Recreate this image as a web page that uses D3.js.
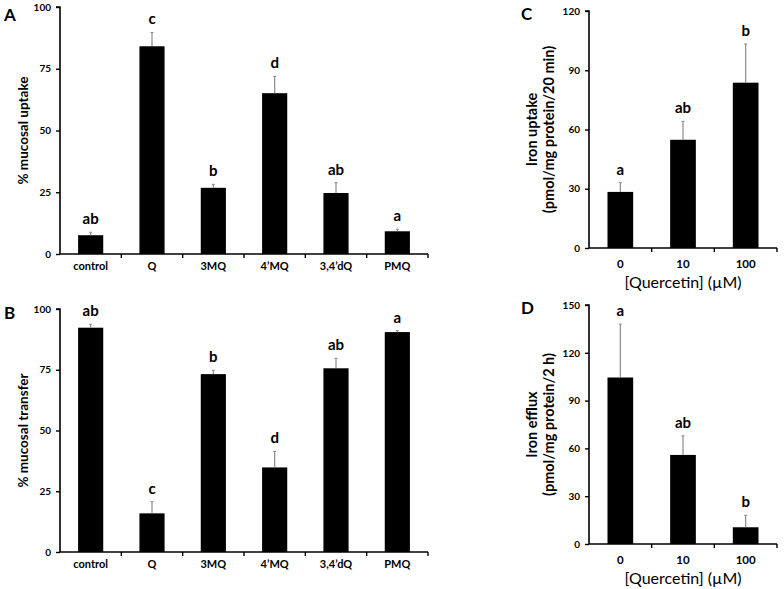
<!DOCTYPE html>
<html>
<head>
<meta charset="utf-8">
<script src="https://cdn.jsdelivr.net/npm/d3@7"></script>
<style>
  body { margin: 0; background: #fff; }
  svg { font-family: Lato, "Open Sans", sans-serif; }
</style>
</head>
<body>
<div id="chart"></div>
<script>
// panels A and B: quercetin analogues
const compounds = ["control", "Q", "3MQ", "4\u2019MQ", "3,4\u2019dQ", "PMQ"];
const uptakeMean = [7.6, 84.1, 26.8, 65.1, 24.7, 9.2];
const uptakeErr  = [1.2, 5.6, 1.4, 6.8, 4.2, 0.8];
const uptakeLetters = ["ab", "c", "b", "d", "ab", "a"];

const transferMean = [92.3, 15.9, 73.2, 34.8, 75.6, 90.5];
const transferErr  = [1.4, 4.8, 1.6, 6.6, 4.1, 0.6];
const transferLetters = ["ab", "c", "b", "d", "ab", "a"];

// panels C and D: quercetin dose
const doses = ["0", "10", "100"];
const ironUptakeMean = [28.4, 54.8, 83.7];
const ironUptakeErr  = [4.7, 9.3, 19.6];
const ironUptakeLetters = ["a", "ab", "b"];

const effluxMean = [104.5, 55.9, 10.5];
const effluxErr  = [33.5, 12.0, 7.5];
const effluxLetters = ["a", "ab", "b"];

const W = 784, H = 589;
const svg = d3.select("#chart").append("svg").attr("width", W).attr("height", H);

function panel(opt) {
    const g = svg.append("g");
    const x = d3.scaleBand().domain(opt.cats).range([opt.x0, opt.x1]).paddingInner(0.59).paddingOuter(0.295);
    const y = d3.scaleLinear().domain([0, opt.max]).range([opt.y1, opt.y0]);

    // bars
    g.selectAll("rect").data(opt.mean).join("rect")
        .attr("x", (d, i) => x(opt.cats[i]))
        .attr("y", d => y(d))
        .attr("width", x.bandwidth())
        .attr("height", d => y(0) - y(d))
        .attr("fill", "#000");

    // error bars (upper only)
    g.selectAll("line.err").data(opt.mean).join("line").attr("class", "err")
        .attr("x1", (d, i) => x(opt.cats[i]) + x.bandwidth() / 2)
        .attr("x2", (d, i) => x(opt.cats[i]) + x.bandwidth() / 2)
        .attr("y1", d => y(d))
        .attr("y2", (d, i) => y(d + opt.err[i]))
        .attr("stroke", "#8a8a8a").attr("stroke-width", 1.2);
    g.selectAll("line.cap").data(opt.mean).join("line").attr("class", "cap")
        .attr("x1", (d, i) => x(opt.cats[i]) + x.bandwidth() / 2 - 1.5)
        .attr("x2", (d, i) => x(opt.cats[i]) + x.bandwidth() / 2 + 1.5)
        .attr("y1", (d, i) => y(d + opt.err[i]))
        .attr("y2", (d, i) => y(d + opt.err[i]))
        .attr("stroke", "#8a8a8a").attr("stroke-width", 1);

    // significance letters
    g.selectAll("text.sig").data(opt.mean).join("text").attr("class", "sig")
        .attr("x", (d, i) => x(opt.cats[i]) + x.bandwidth() / 2)
        .attr("y", (d, i) => y(d + opt.err[i]) - 8)
        .attr("text-anchor", "middle")
        .attr("font-size", 15).attr("font-weight", "bold")
        .text((d, i) => opt.letters[i]);

    // y axis
    const ya = g.append("g").attr("transform", `translate(${opt.x0},0)`)
        .call(d3.axisLeft(y).tickValues(opt.ticks).tickSize(4).tickPadding(5));
    ya.select(".domain").attr("d", `M-4,${opt.y0}H0V${opt.y1}`).attr("stroke-width", 1.6);
    ya.selectAll(".tick line").attr("stroke-width", 1.4);
    ya.selectAll(".tick text").attr("font-size", 10).attr("font-weight", "bold").attr("font-family", "Lato, sans-serif");

    // x axis: line with ticks at category boundaries
    g.append("line").attr("x1", opt.x0).attr("x2", opt.x1).attr("y1", y(0)).attr("y2", y(0))
        .attr("stroke", "#000").attr("stroke-width", 1.6);
    const bounds = d3.range(opt.cats.length + 1).map(i => opt.x0 + i * x.step());
    g.selectAll("line.xt").data(bounds.slice(1)).join("line").attr("class", "xt")
        .attr("x1", d => d).attr("x2", d => d)
        .attr("y1", y(0)).attr("y2", y(0) + 4)
        .attr("stroke", "#000").attr("stroke-width", 1.4);
    g.selectAll("text.xl").data(opt.cats).join("text").attr("class", "xl")
        .attr("x", d => x(d) + x.bandwidth() / 2)
        .attr("y", y(0) + opt.xlabOff)
        .attr("text-anchor", "middle")
        .attr("font-size", opt.xlabSize).attr("font-weight", "bold")
        .text(d => d);

    // y title
    const tx = opt.titleX, ty = (opt.y0 + opt.y1) / 2;
    const t = g.append("text").attr("transform", `translate(${tx},${ty}) rotate(-90)`)
        .attr("text-anchor", "middle").attr("font-size", opt.titleSize).attr("font-weight", "bold");
    opt.title.forEach((line, i) => {
        t.append("tspan").attr("x", 0).attr("dy", i === 0 ? 0 : "1.2em").text(line);
    });

    if (opt.xtitle) {
        g.append("text").attr("x", (opt.x0 + opt.x1) / 2).attr("y", y(0) + 40)
            .attr("text-anchor", "middle").attr("font-size", 16)
            .text(opt.xtitle);
    }

    // panel letter
    g.append("text").attr("x", opt.lx).attr("y", opt.ly)
        .attr("font-size", 17).attr("font-weight", "bold").text(opt.label);
}

panel({cats: compounds, mean: uptakeMean, err: uptakeErr, letters: uptakeLetters,
    x0: 60, x1: 428, y0: 7, y1: 254, max: 100, ticks: [0, 25, 50, 75, 100],
    xlabOff: 16, xlabSize: 11, title: ["% mucosal uptake"], titleX: 28, titleSize: 13.5,
    label: "A", lx: 4, ly: 21});

panel({cats: compounds, mean: transferMean, err: transferErr, letters: transferLetters,
    x0: 60, x1: 428, y0: 309, y1: 552, max: 100, ticks: [0, 25, 50, 75, 100],
    xlabOff: 16, xlabSize: 11, title: ["% mucosal transfer"], titleX: 28, titleSize: 13.5,
    label: "B", lx: 4, ly: 319});

panel({cats: doses, mean: ironUptakeMean, err: ironUptakeErr, letters: ironUptakeLetters,
    x0: 589, x1: 777, y0: 11, y1: 248, max: 120, ticks: [0, 30, 60, 90, 120],
    xlabOff: 20, xlabSize: 11.5, title: ["Iron uptake", "(pmol/mg protein/20 min)"], titleX: 537, titleSize: 14.5,
    xtitle: "[Quercetin] (\u00b5M)", label: "C", lx: 521, ly: 20});

panel({cats: doses, mean: effluxMean, err: effluxErr, letters: effluxLetters,
    x0: 589, x1: 777, y0: 305, y1: 544, max: 150, ticks: [0, 30, 60, 90, 120, 150],
    xlabOff: 20, xlabSize: 11.5, title: ["Iron efflux", "(pmol/mg protein/2 h)"], titleX: 537, titleSize: 14.5,
    xtitle: "[Quercetin] (\u00b5M)", label: "D", lx: 521, ly: 314});
</script>
</body>
</html>
